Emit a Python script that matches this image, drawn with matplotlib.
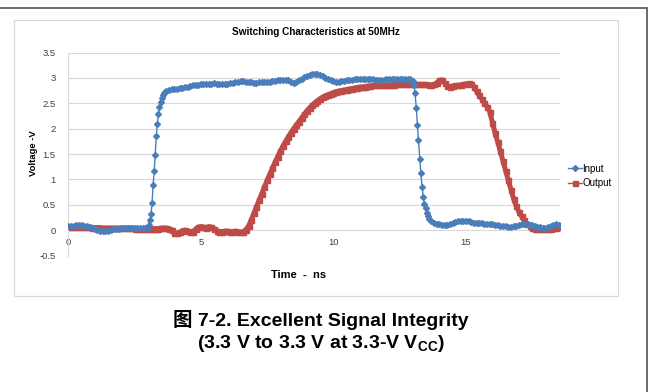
import matplotlib
matplotlib.use("Agg")
import matplotlib.pyplot as plt
import numpy as np
from matplotlib.patches import Rectangle
from matplotlib.lines import Line2D

# ---- data (ns, V) ----
input_t = [
    0.0, 0.1, 0.2, 0.3, 0.4, 0.5, 0.6, 0.7, 0.8, 0.9,
    1.0, 1.1, 1.2, 1.3, 1.4, 1.5, 1.6, 1.7, 1.8, 1.9,
    2.0, 2.1, 2.2, 2.3, 2.4, 2.5, 2.6, 2.7, 2.8, 2.9,
    2.96, 3.0, 3.04, 3.08, 3.12, 3.16, 3.20, 3.24, 3.28, 3.32,
    3.36, 3.40, 3.44, 3.48, 3.52, 3.56, 3.60, 3.65, 3.7, 3.8,
    3.9, 4.0, 4.1, 4.2, 4.3, 4.4, 4.5, 4.6, 4.7, 4.8, 4.9,
    5.0, 5.1, 5.2, 5.3, 5.4, 5.5, 5.6, 5.7, 5.8, 5.9,
    6.0, 6.1, 6.2, 6.3, 6.4, 6.5, 6.6, 6.7, 6.8, 6.9,
    7.0, 7.1, 7.2, 7.3, 7.4, 7.5, 7.6, 7.7, 7.8, 7.9,
    8.0, 8.1, 8.2, 8.3, 8.4, 8.5, 8.6, 8.7, 8.8, 8.9,
    9.0, 9.1, 9.2, 9.3, 9.4, 9.5, 9.6, 9.7, 9.8, 9.9,
    10.0, 10.1, 10.2, 10.3, 10.4, 10.5, 10.6, 10.7, 10.8, 10.9,
    11.0, 11.1, 11.2, 11.3, 11.4, 11.5, 11.6, 11.7, 11.8, 11.9,
    12.0, 12.1, 12.2, 12.3, 12.4, 12.5, 12.6, 12.7, 12.8, 12.9,
    13.0, 13.04, 13.08, 13.13, 13.17, 13.21, 13.26, 13.30, 13.35, 13.39,
    13.43, 13.48, 13.52, 13.56, 13.6, 13.7, 13.8, 13.9,
    14.0, 14.1, 14.2, 14.3, 14.4, 14.5, 14.6, 14.7, 14.8, 14.9,
    15.0, 15.1, 15.2, 15.3, 15.4, 15.5, 15.6, 15.7, 15.8, 15.9,
    16.0, 16.1, 16.2, 16.3, 16.4, 16.5, 16.6, 16.7, 16.8, 16.9,
    17.0, 17.1, 17.2, 17.3, 17.4, 17.5, 17.6, 17.7, 17.8, 17.9,
    18.0, 18.1, 18.2, 18.3, 18.4, 18.5, 18.55,
]
input_v = [
    0.08, 0.09, 0.09, 0.10, 0.10, 0.10, 0.09, 0.08, 0.07, 0.05,
    0.03, 0.01, -0.01, -0.02, -0.02, -0.01, 0.01, 0.02, 0.03, 0.03,
    0.04, 0.04, 0.04, 0.04, 0.04, 0.04, 0.04, 0.04, 0.04, 0.04,
    0.04, 0.05, 0.10, 0.20, 0.31, 0.54, 0.89, 1.16, 1.49, 1.85,
    2.10, 2.28, 2.43, 2.53, 2.60, 2.66, 2.70, 2.73, 2.75, 2.77,
    2.78, 2.79, 2.79, 2.80, 2.81, 2.82, 2.83, 2.84, 2.85, 2.86, 2.86,
    2.87, 2.87, 2.88, 2.88, 2.88, 2.89, 2.88, 2.87, 2.87, 2.87,
    2.88, 2.89, 2.90, 2.91, 2.92, 2.93, 2.93, 2.92, 2.91, 2.91,
    2.90, 2.90, 2.91, 2.91, 2.92, 2.92, 2.92, 2.93, 2.94, 2.95,
    2.95, 2.96, 2.96, 2.95, 2.92, 2.90, 2.92, 2.95, 2.98, 3.01,
    3.04, 3.06, 3.07, 3.08, 3.08, 3.06, 3.03, 3.00, 2.97, 2.95,
    2.93, 2.92, 2.92, 2.93, 2.94, 2.95, 2.96, 2.96, 2.97, 2.97,
    2.98, 2.98, 2.98, 2.98, 2.97, 2.97, 2.96, 2.96, 2.96, 2.96,
    2.97, 2.97, 2.97, 2.97, 2.97, 2.97, 2.97, 2.98, 2.98, 2.97,
    2.93, 2.85, 2.70, 2.40, 2.08, 1.78, 1.40, 1.12, 0.85, 0.66,
    0.52, 0.43, 0.33, 0.27, 0.22, 0.17, 0.15, 0.13,
    0.12, 0.11, 0.11, 0.11, 0.12, 0.14, 0.16, 0.17, 0.18, 0.18,
    0.18, 0.17, 0.16, 0.15, 0.15, 0.14, 0.14, 0.13, 0.13, 0.12,
    0.12, 0.11, 0.10, 0.09, 0.08, 0.08, 0.07, 0.07, 0.08, 0.09,
    0.11, 0.12, 0.13, 0.12, 0.11, 0.10, 0.09, 0.07, 0.06, 0.05,
    0.05, 0.06, 0.08, 0.11, 0.12, 0.10, 0.08,
]

# output sampled every 0.1 ns from t = 0
output_v = [
    0.07, 0.07, 0.07, 0.06, 0.06, 0.06, 0.06, 0.06, 0.06, 0.05,
    0.05, 0.05, 0.05, 0.04, 0.04, 0.04, 0.04, 0.04, 0.04, 0.04,
    0.04, 0.04, 0.04, 0.04, 0.04, 0.03, 0.03, 0.03, 0.03, 0.03,
    0.03, 0.03, 0.03, 0.03, 0.03, 0.04, 0.04, 0.04, 0.03, 0.00,
    -0.05, -0.06, -0.04, -0.01, 0.00, -0.02, -0.04, -0.03, 0.02, 0.06,
    0.07, 0.06, 0.05, 0.07, 0.06, 0.03, -0.01, -0.03, -0.03, -0.02,
    -0.02, -0.03, -0.03, -0.02, -0.03, -0.04, -0.03, 0.01, 0.08, 0.20,
    0.33, 0.46, 0.59, 0.72, 0.85, 0.98, 1.10, 1.22, 1.34, 1.45,
    1.56, 1.66, 1.75, 1.84, 1.92, 2.00, 2.07, 2.14, 2.21, 2.28,
    2.35, 2.41, 2.46, 2.51, 2.55, 2.59, 2.62, 2.65, 2.67, 2.69,
    2.71, 2.73, 2.74, 2.75, 2.76, 2.77, 2.78, 2.79, 2.80, 2.81,
    2.82, 2.82, 2.83, 2.84, 2.84, 2.85, 2.85, 2.85, 2.86, 2.86,
    2.86, 2.86, 2.86, 2.86, 2.87, 2.87, 2.87, 2.87, 2.87, 2.87,
    2.87, 2.87, 2.87, 2.87, 2.87, 2.87, 2.86, 2.86, 2.87, 2.90,
    2.95, 2.96, 2.90, 2.84, 2.83, 2.84, 2.85, 2.85, 2.86, 2.87,
    2.88, 2.89, 2.88, 2.83, 2.74, 2.66, 2.58, 2.51, 2.43, 2.33,
    2.12, 1.92, 1.74, 1.55, 1.36, 1.17, 0.98, 0.80, 0.62, 0.47,
    0.36, 0.27, 0.19, 0.13, 0.09, 0.05, 0.03, 0.03, 0.02, 0.02,
    0.02, 0.02, 0.03, 0.04, 0.05, 0.06,
]
output_t = np.arange(len(output_v)) * 0.1

y_ticks = [-0.5, 0, 0.5, 1, 1.5, 2, 2.5, 3, 3.5]
y_ticklabels = ["-0.5", "0", "0.5", "1", "1.5", "2", "2.5", "3", "3.5"]
x_ticks = [0, 5, 10, 15]
series_names = ["Input", "Output"]

BLUE = "#4A7EBB"
RED = "#BE4B48"
CHART_FONT = ["Liberation Sans", "DejaVu Sans"]

fig = plt.figure(figsize=(6.49, 3.92), dpi=100)
W, H = 649.0, 392.0

# page frame (top and right rules) and the light chart border
fig.add_artist(Line2D([0, 647 / W], [1 - 8 / H, 1 - 8 / H], transform=fig.transFigure,
                      color="#6b6b6b", lw=1.4))
fig.add_artist(Line2D([647 / W, 647 / W], [1 - 8 / H, 0], transform=fig.transFigure,
                      color="#6b6b6b", lw=1.4))
fig.add_artist(Rectangle((14 / W, 1 - 296 / H), (618 - 14) / W, (296 - 20) / H,
                         transform=fig.transFigure, fill=False, ec="#D9D9D9", lw=0.9))

ax = fig.add_axes([68.3 / W, 1 - 255.5 / H, (560 - 68.3) / W, (255.5 - 52.5) / H])
ax.plot(input_t, input_v, color=BLUE, lw=1.0, marker="D", ms=3.0, mec=BLUE, mfc=BLUE,
        zorder=3)
ax.plot(output_t, output_v, color=RED, lw=3.6, marker="s", ms=3.6, mec=RED, mfc=RED,
        zorder=2, solid_capstyle="butt")

ax.set_xlim(0, 18.55)
ax.set_ylim(-0.5, 3.5)
ax.set_yticks(y_ticks)
ax.set_yticklabels(y_ticklabels)
ax.set_xticks(x_ticks)
ax.yaxis.grid(True, color="#D9D9D9", lw=0.8)
ax.set_axisbelow(True)
for side in ["top", "right"]:
    ax.spines[side].set_visible(False)
ax.spines["left"].set_color("#D9D9D9")
ax.spines["bottom"].set_position(("data", 0))
ax.spines["bottom"].set_visible(False)
ax.tick_params(length=0, labelsize=6.8, colors="#404040")
ax.tick_params(axis="y", pad=9)
ax.tick_params(axis="x", pad=6)
for lab in ax.get_xticklabels() + ax.get_yticklabels():
    lab.set_family(CHART_FONT)

fig.text(316 / W, 1 - 32 / H, "Switching Characteristics at 50MHz", ha="center", va="center",
         fontsize=7.2, fontweight="bold", family=CHART_FONT)
fig.text(34 / W, 1 - 153 / H, "Voltage -V", ha="center", va="center", rotation=90,
         fontsize=6.8, fontweight="bold", family=CHART_FONT)
fig.text(299 / W, 1 - 275 / H, "Time  -  ns", ha="center", va="center",
         fontsize=8, fontweight="bold", family=CHART_FONT)

# legend keys are thin lines with one marker, as in the spreadsheet chart
handles = [
    Line2D([], [], color=BLUE, lw=1.0, marker="D", ms=3.0),
    Line2D([], [], color=RED, lw=1.0, marker="s", ms=3.6),
]
fig.legend(handles, series_names, loc="center left", bbox_to_anchor=(568 / W, 1 - 176 / H),
           frameon=False, handlelength=1.4, handletextpad=0.1, labelspacing=0.5,
           borderpad=0, borderaxespad=0, prop={"family": CHART_FONT, "size": 7})

# figure caption
plt.rcParams["mathtext.fontset"] = "custom"
plt.rcParams["mathtext.rm"] = "Liberation Sans:bold"
plt.rcParams["mathtext.bf"] = "Liberation Sans:bold"
fig.text(321 / W, 1 - 326.5 / H, "图 7-2. Excellent Signal Integrity", ha="center", va="baseline",
         fontsize=14, fontweight="bold", family=["Liberation Sans", "Noto Sans CJK SC"])
fig.text(321 / W, 1 - 348.5 / H, r"(3.3 V to 3.3 V at 3.3-V $\mathbf{V_{CC}}$)", ha="center",
         va="baseline", fontsize=14, fontweight="bold", family=["Liberation Sans"])

fig.savefig("out.png", dpi=100)
